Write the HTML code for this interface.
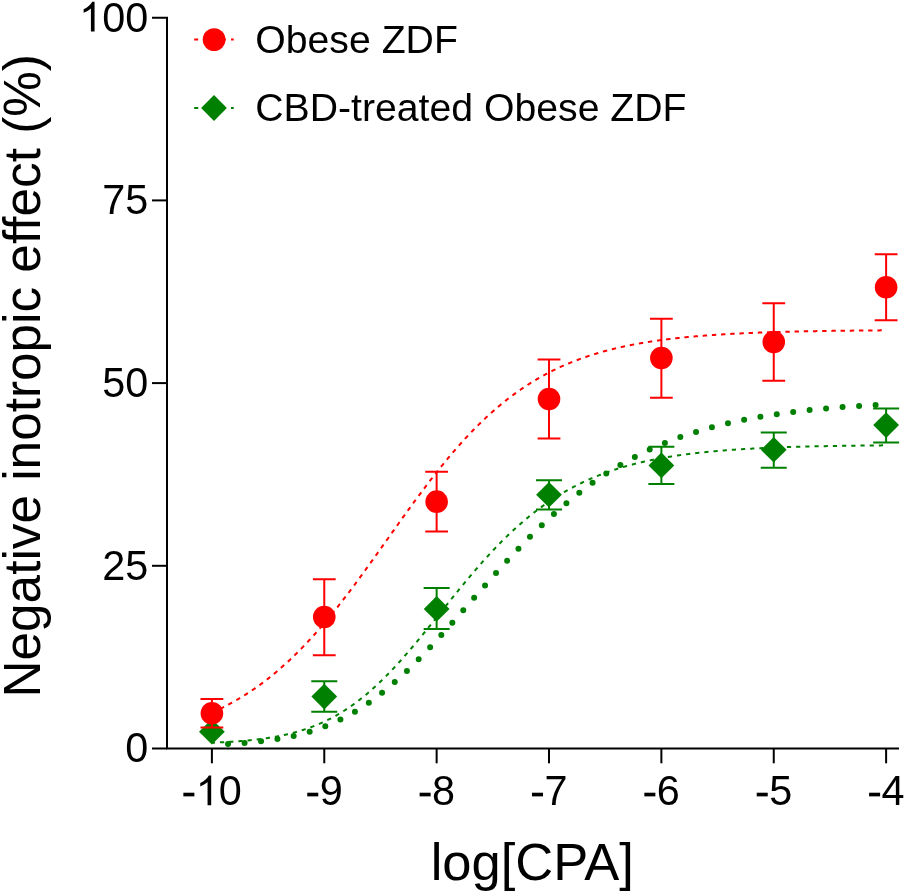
<!DOCTYPE html><html><head><meta charset="utf-8"><style>html,body{margin:0;padding:0;background:#fff;}svg{display:block;will-change:transform;}text{font-family:"Liberation Sans",sans-serif;fill:#000;}</style></head><body>
<svg width="905" height="894" viewBox="0 0 905 894">
<g stroke="#000" stroke-width="2" fill="none" stroke-linecap="butt">
<path d="M152,17.7 H167 V748.5 H899"/>
<path d="M152,200.40 H167"/>
<path d="M152,383.10 H167"/>
<path d="M152,565.80 H167"/>
<path d="M152,748.50 H167"/>
<path d="M211.90,748.5 V763.3"/>
<path d="M324.27,748.5 V763.3"/>
<path d="M436.64,748.5 V763.3"/>
<path d="M549.01,748.5 V763.3"/>
<path d="M661.38,748.5 V763.3"/>
<path d="M773.75,748.5 V763.3"/>
<path d="M886.12,748.5 V763.3"/>
</g>
<text transform="translate(125.18,762.40) scale(1,1.04)" font-size="41.4">0</text>
<text transform="translate(102.15,579.70) scale(1,1.04)" font-size="41.4">25</text>
<text transform="translate(102.15,397.00) scale(1,1.04)" font-size="41.4">50</text>
<text transform="translate(102.15,214.30) scale(1,1.04)" font-size="41.4">75</text>
<path d="M763,0 L583,0 L583,1147 Q518,1085 412.5,1023 Q307,961 223,930 L223,1104 Q374,1175 487,1276 Q600,1377 647,1472 L763,1472 Z" transform="translate(79.13,31.60) scale(0.020215,-0.020215)" fill="#000"/><text transform="translate(102.15,31.60) scale(1,1.04)" font-size="41.4">00</text>
<rect x="183.36" y="792.71" width="11.02" height="3.66" fill="#000"/><path d="M763,0 L583,0 L583,1147 Q518,1085 412.5,1023 Q307,961 223,930 L223,1104 Q374,1175 487,1276 Q600,1377 647,1472 L763,1472 Z" transform="translate(195.77,805.30) scale(0.020215,-0.020215)" fill="#000"/><text transform="translate(218.79,805.30) scale(1,1.04)" font-size="41.4">0</text>
<rect x="307.24" y="792.71" width="11.02" height="3.66" fill="#000"/><text transform="translate(319.65,805.30) scale(1,1.04)" font-size="41.4">9</text>
<rect x="419.61" y="792.71" width="11.02" height="3.66" fill="#000"/><text transform="translate(432.02,805.30) scale(1,1.04)" font-size="41.4">8</text>
<rect x="531.98" y="792.71" width="11.02" height="3.66" fill="#000"/><text transform="translate(544.39,805.30) scale(1,1.04)" font-size="41.4">7</text>
<rect x="644.35" y="792.71" width="11.02" height="3.66" fill="#000"/><text transform="translate(656.76,805.30) scale(1,1.04)" font-size="41.4">6</text>
<rect x="756.72" y="792.71" width="11.02" height="3.66" fill="#000"/><text transform="translate(769.13,805.30) scale(1,1.04)" font-size="41.4">5</text>
<rect x="869.09" y="792.71" width="11.02" height="3.66" fill="#000"/><text transform="translate(881.50,805.30) scale(1,1.04)" font-size="41.4">4</text>
<text x="532.3" y="879.7" font-size="52.5" text-anchor="middle">log[CPA]</text>
<text transform="translate(39.5,375.8) rotate(-90)" font-size="51.3" text-anchor="middle">Negative inotropic effect (%)</text>
<path d="M311.27,681.19 H337.27 M324.27,681.19 V711.81 M311.27,711.81 H337.27" stroke="#008000" stroke-width="2" fill="none"/>
<path d="M423.64,588.09 H449.64 M436.64,588.09 V629.01 M423.64,629.01 H449.64" stroke="#008000" stroke-width="2" fill="none"/>
<path d="M536.01,480.37 H562.01 M549.01,480.37 V509.60 M536.01,509.60 H562.01" stroke="#008000" stroke-width="2" fill="none"/>
<path d="M648.38,446.83 H674.38 M661.38,446.83 V483.88 M648.38,483.88 H674.38" stroke="#008000" stroke-width="2" fill="none"/>
<path d="M760.75,432.58 H786.75 M773.75,432.58 V467.73 M760.75,467.73 H786.75" stroke="#008000" stroke-width="2" fill="none"/>
<path d="M873.12,408.60 H899.12 M886.12,408.60 V442.59 M873.12,442.59 H899.12" stroke="#008000" stroke-width="2" fill="none"/>
<path d="M211.90,718.89 L224.80,731.69 L211.90,744.49 L199.00,731.69 Z" fill="#008000"/>
<path d="M324.27,683.81 L337.17,696.61 L324.27,709.41 L311.37,696.61 Z" fill="#008000"/>
<path d="M436.64,596.12 L449.54,608.92 L436.64,621.72 L423.74,608.92 Z" fill="#008000"/>
<path d="M549.01,481.89 L561.91,494.69 L549.01,507.49 L536.11,494.69 Z" fill="#008000"/>
<path d="M661.38,452.59 L674.28,465.39 L661.38,478.19 L648.48,465.39 Z" fill="#008000"/>
<path d="M773.75,437.02 L786.65,449.82 L773.75,462.62 L760.85,449.82 Z" fill="#008000"/>
<path d="M886.12,412.32 L899.02,425.12 L886.12,437.92 L873.22,425.12 Z" fill="#008000"/>
<path d="M211.90,742.72 L212.46,742.70 L213.02,742.68 L213.59,742.65 L214.15,742.63 L214.71,742.61 L215.27,742.58 L215.84,742.56 L216.40,742.54 L216.96,742.51 L217.52,742.49 L218.09,742.46 L218.65,742.43 L219.21,742.41 L219.77,742.38 L220.33,742.35 L220.90,742.33 L221.46,742.30 L222.02,742.27 L222.58,742.24 L223.15,742.21 L223.71,742.18 L224.27,742.15 L224.83,742.12 L225.40,742.09 L225.96,742.06 L226.52,742.03 L227.08,742.00 L227.64,741.97 L228.21,741.93 L228.77,741.90 L229.33,741.87 L229.89,741.83 L230.46,741.80 L231.02,741.76 L231.58,741.72 L232.14,741.69 L232.71,741.65 L233.27,741.61 L233.83,741.58 L234.39,741.54 L234.96,741.50 L235.52,741.46 L236.08,741.42 L236.64,741.38 L237.20,741.34 L237.77,741.29 L238.33,741.25 L238.89,741.21 L239.45,741.17 L240.02,741.12 L240.58,741.08 L241.14,741.03 L241.70,740.98 L242.27,740.94 L242.83,740.89 L243.39,740.84 L243.95,740.79 L244.51,740.74 L245.08,740.69 L245.64,740.64 L246.20,740.59 L246.76,740.54 L247.33,740.49 L247.89,740.43 L248.45,740.38 L249.01,740.32 L249.58,740.27 L250.14,740.21 L250.70,740.15 L251.26,740.10 L251.82,740.04 L252.39,739.98 L252.95,739.92 L253.51,739.86 L254.07,739.79 L254.64,739.73 L255.20,739.67 L255.76,739.60 L256.32,739.54 L256.89,739.47 L257.45,739.40 L258.01,739.33 L258.57,739.27 L259.13,739.20 L259.70,739.13 L260.26,739.05 L260.82,738.98 L261.38,738.91 L261.95,738.83 L262.51,738.76 L263.07,738.68 L263.63,738.60 L264.20,738.52 L264.76,738.44 L265.32,738.36 L265.88,738.28 L266.44,738.20 L267.01,738.12 L267.57,738.03 L268.13,737.94 L268.69,737.86 L269.26,737.77 L269.82,737.68 L270.38,737.59 L270.94,737.50 L271.51,737.41 L272.07,737.31 L272.63,737.22 L273.19,737.12 L273.76,737.02 L274.32,736.92 L274.88,736.82 L275.44,736.72 L276.00,736.62 L276.57,736.52 L277.13,736.41 L277.69,736.31 L278.25,736.20 L278.82,736.09 L279.38,735.98 L279.94,735.87 L280.50,735.76 L281.07,735.64 L281.63,735.53 L282.19,735.41 L282.75,735.29 L283.31,735.17 L283.88,735.05 L284.44,734.93 L285.00,734.80 L285.56,734.68 L286.13,734.55 L286.69,734.42 L287.25,734.29 L287.81,734.16 L288.38,734.02 L288.94,733.89 L289.50,733.75 L290.06,733.62 L290.62,733.48 L291.19,733.33 L291.75,733.19 L292.31,733.05 L292.87,732.90 L293.44,732.75 L294.00,732.60 L294.56,732.45 L295.12,732.30 L295.69,732.14 L296.25,731.99 L296.81,731.83 L297.37,731.67 L297.93,731.51 L298.50,731.34 L299.06,731.18 L299.62,731.01 L300.18,730.84 L300.75,730.67 L301.31,730.50 L301.87,730.32 L302.43,730.15 L303.00,729.97 L303.56,729.79 L304.12,729.61 L304.68,729.42 L305.24,729.23 L305.81,729.05 L306.37,728.86 L306.93,728.66 L307.49,728.47 L308.06,728.27 L308.62,728.07 L309.18,727.87 L309.74,727.67 L310.31,727.47 L310.87,727.26 L311.43,727.05 L311.99,726.84 L312.56,726.62 L313.12,726.41 L313.68,726.19 L314.24,725.97 L314.80,725.75 L315.37,725.52 L315.93,725.30 L316.49,725.07 L317.05,724.84 L317.62,724.60 L318.18,724.37 L318.74,724.13 L319.30,723.89 L319.87,723.64 L320.43,723.40 L320.99,723.15 L321.55,722.90 L322.11,722.65 L322.68,722.39 L323.24,722.13 L323.80,721.87 L324.36,721.61 L324.93,721.35 L325.49,721.08 L326.05,720.81 L326.61,720.54 L327.18,720.26 L327.74,719.98 L328.30,719.70 L328.86,719.42 L329.42,719.14 L329.99,718.85 L330.55,718.56 L331.11,718.27 L331.67,717.97 L332.24,717.67 L332.80,717.37 L333.36,717.07 L333.92,716.76 L334.49,716.45 L335.05,716.14 L335.61,715.83 L336.17,715.51 L336.73,715.19 L337.30,714.87 L337.86,714.54 L338.42,714.22 L338.98,713.88 L339.55,713.55 L340.11,713.22 L340.67,712.88 L341.23,712.53 L341.80,712.19 L342.36,711.84 L342.92,711.49 L343.48,711.14 L344.04,710.78 L344.61,710.43 L345.17,710.06 L345.73,709.70 L346.29,709.33 L346.86,708.96 L347.42,708.59 L347.98,708.22 L348.54,707.84 L349.11,707.46 L349.67,707.07 L350.23,706.68 L350.79,706.29 L351.36,705.90 L351.92,705.51 L352.48,705.11 L353.04,704.70 L353.60,704.30 L354.17,703.89 L354.73,703.48 L355.29,703.07 L355.85,702.65 L356.42,702.23 L356.98,701.81 L357.54,701.39 L358.10,700.96 L358.67,700.53 L359.23,700.09 L359.79,699.66 L360.35,699.22 L360.91,698.78 L361.48,698.33 L362.04,697.88 L362.60,697.43 L363.16,696.98 L363.73,696.52 L364.29,696.06 L364.85,695.60 L365.41,695.13 L365.98,694.66 L366.54,694.19 L367.10,693.72 L367.66,693.24 L368.22,692.76 L368.79,692.28 L369.35,691.79 L369.91,691.30 L370.47,690.81 L371.04,690.32 L371.60,689.82 L372.16,689.32 L372.72,688.82 L373.29,688.31 L373.85,687.80 L374.41,687.29 L374.97,686.78 L375.53,686.26 L376.10,685.74 L376.66,685.22 L377.22,684.69 L377.78,684.16 L378.35,683.63 L378.91,683.10 L379.47,682.56 L380.03,682.03 L380.60,681.48 L381.16,680.94 L381.72,680.39 L382.28,679.84 L382.84,679.29 L383.41,678.74 L383.97,678.18 L384.53,677.62 L385.09,677.06 L385.66,676.49 L386.22,675.92 L386.78,675.35 L387.34,674.78 L387.91,674.21 L388.47,673.63 L389.03,673.05 L389.59,672.47 L390.15,671.88 L390.72,671.29 L391.28,670.70 L391.84,670.11 L392.40,669.52 L392.97,668.92 L393.53,668.32 L394.09,667.72 L394.65,667.12 L395.22,666.51 L395.78,665.90 L396.34,665.29 L396.90,664.68 L397.47,664.07 L398.03,663.45 L398.59,662.83 L399.15,662.21 L399.71,661.59 L400.28,660.96 L400.84,660.33 L401.40,659.70 L401.96,659.07 L402.53,658.44 L403.09,657.81 L403.65,657.17 L404.21,656.53 L404.78,655.89 L405.34,655.25 L405.90,654.60 L406.46,653.96 L407.02,653.31 L407.59,652.66 L408.15,652.01 L408.71,651.35 L409.27,650.70 L409.84,650.04 L410.40,649.38 L410.96,648.72 L411.52,648.06 L412.09,647.40 L412.65,646.74 L413.21,646.07 L413.77,645.40 L414.33,644.73 L414.90,644.06 L415.46,643.39 L416.02,642.72 L416.58,642.05 L417.15,641.37 L417.71,640.70 L418.27,640.02 L418.83,639.34 L419.40,638.66 L419.96,637.98 L420.52,637.30 L421.08,636.61 L421.64,635.93 L422.21,635.24 L422.77,634.56 L423.33,633.87 L423.89,633.18 L424.46,632.49 L425.02,631.80 L425.58,631.11 L426.14,630.42 L426.71,629.73 L427.27,629.03 L427.83,628.34 L428.39,627.64 L428.95,626.95 L429.52,626.25 L430.08,625.56 L430.64,624.86 L431.20,624.16 L431.77,623.46 L432.33,622.76 L432.89,622.07 L433.45,621.37 L434.02,620.67 L434.58,619.97 L435.14,619.26 L435.70,618.56 L436.27,617.86 L436.83,617.16 L437.39,616.46 L437.95,615.76 L438.51,615.06 L439.08,614.35 L439.64,613.65 L440.20,612.95 L440.76,612.25 L441.33,611.55 L441.89,610.84 L442.45,610.14 L443.01,609.44 L443.58,608.74 L444.14,608.03 L444.70,607.33 L445.26,606.63 L445.82,605.93 L446.39,605.23 L446.95,604.53 L447.51,603.83 L448.07,603.13 L448.64,602.43 L449.20,601.73 L449.76,601.03 L450.32,600.33 L450.89,599.63 L451.45,598.94 L452.01,598.24 L452.57,597.54 L453.13,596.85 L453.70,596.15 L454.26,595.46 L454.82,594.76 L455.38,594.07 L455.95,593.38 L456.51,592.69 L457.07,592.00 L457.63,591.31 L458.20,590.62 L458.76,589.93 L459.32,589.24 L459.88,588.55 L460.44,587.87 L461.01,587.18 L461.57,586.50 L462.13,585.82 L462.69,585.13 L463.26,584.45 L463.82,583.77 L464.38,583.10 L464.94,582.42 L465.51,581.74 L466.07,581.07 L466.63,580.39 L467.19,579.72 L467.75,579.05 L468.32,578.38 L468.88,577.71 L469.44,577.04 L470.00,576.37 L470.57,575.71 L471.13,575.04 L471.69,574.38 L472.25,573.72 L472.82,573.06 L473.38,572.40 L473.94,571.75 L474.50,571.09 L475.07,570.44 L475.63,569.78 L476.19,569.13 L476.75,568.48 L477.31,567.84 L477.88,567.19 L478.44,566.54 L479.00,565.90 L479.56,565.26 L480.13,564.62 L480.69,563.98 L481.25,563.35 L481.81,562.71 L482.38,562.08 L482.94,561.45 L483.50,560.82 L484.06,560.19 L484.62,559.56 L485.19,558.94 L485.75,558.32 L486.31,557.70 L486.87,557.08 L487.44,556.46 L488.00,555.84 L488.56,555.23 L489.12,554.62 L489.69,554.01 L490.25,553.40 L490.81,552.80 L491.37,552.19 L491.93,551.59 L492.50,550.99 L493.06,550.39 L493.62,549.80 L494.18,549.20 L494.75,548.61 L495.31,548.02 L495.87,547.43 L496.43,546.85 L497.00,546.26 L497.56,545.68 L498.12,545.10 L498.68,544.52 L499.24,543.95 L499.81,543.37 L500.37,542.80 L500.93,542.23 L501.49,541.66 L502.06,541.10 L502.62,540.53 L503.18,539.97 L503.74,539.41 L504.31,538.86 L504.87,538.30 L505.43,537.75 L505.99,537.20 L506.55,536.65 L507.12,536.11 L507.68,535.56 L508.24,535.02 L508.80,534.48 L509.37,533.94 L509.93,533.41 L510.49,532.87 L511.05,532.34 L511.62,531.81 L512.18,531.29 L512.74,530.76 L513.30,530.24 L513.87,529.72 L514.43,529.20 L514.99,528.69 L515.55,528.18 L516.11,527.66 L516.68,527.16 L517.24,526.65 L517.80,526.14 L518.36,525.64 L518.93,525.14 L519.49,524.65 L520.05,524.15 L520.61,523.66 L521.18,523.17 L521.74,522.68 L522.30,522.19 L522.86,521.71 L523.42,521.22 L523.99,520.74 L524.55,520.27 L525.11,519.79 L525.67,519.32 L526.24,518.85 L526.80,518.38 L527.36,517.91 L527.92,517.45 L528.49,516.99 L529.05,516.53 L529.61,516.07 L530.17,515.62 L530.73,515.16 L531.30,514.71 L531.86,514.26 L532.42,513.82 L532.98,513.37 L533.55,512.93 L534.11,512.49 L534.67,512.05 L535.23,511.62 L535.80,511.19 L536.36,510.76 L536.92,510.33 L537.48,509.90 L538.04,509.48 L538.61,509.06 L539.17,508.64 L539.73,508.22 L540.29,507.80 L540.86,507.39 L541.42,506.98 L541.98,506.57 L542.54,506.16 L543.11,505.76 L543.67,505.36 L544.23,504.96 L544.79,504.56 L545.35,504.16 L545.92,503.77 L546.48,503.38 L547.04,502.99 L547.60,502.60 L548.17,502.21 L548.73,501.83 L549.29,501.45 L549.85,501.07 L550.42,500.69 L550.98,500.32 L551.54,499.95 L552.10,499.57 L552.67,499.21 L553.23,498.84 L553.79,498.48 L554.35,498.11 L554.91,497.75 L555.48,497.39 L556.04,497.04 L556.60,496.68 L557.16,496.33 L557.73,495.98 L558.29,495.63 L558.85,495.29 L559.41,494.94 L559.98,494.60 L560.54,494.26 L561.10,493.92 L561.66,493.59 L562.22,493.25 L562.79,492.92 L563.35,492.59 L563.91,492.26 L564.47,491.93 L565.04,491.61 L565.60,491.29 L566.16,490.97 L566.72,490.65 L567.29,490.33 L567.85,490.01 L568.41,489.70 L568.97,489.39 L569.53,489.08 L570.10,488.77 L570.66,488.47 L571.22,488.16 L571.78,487.86 L572.35,487.56 L572.91,487.26 L573.47,486.97 L574.03,486.67 L574.60,486.38 L575.16,486.09 L575.72,485.80 L576.28,485.51 L576.84,485.23 L577.41,484.94 L577.97,484.66 L578.53,484.38 L579.09,484.10 L579.66,483.82 L580.22,483.55 L580.78,483.28 L581.34,483.00 L581.91,482.73 L582.47,482.47 L583.03,482.20 L583.59,481.93 L584.15,481.67 L584.72,481.41 L585.28,481.15 L585.84,480.89 L586.40,480.63 L586.97,480.38 L587.53,480.13 L588.09,479.87 L588.65,479.62 L589.22,479.37 L589.78,479.13 L590.34,478.88 L590.90,478.64 L591.47,478.40 L592.03,478.16 L592.59,477.92 L593.15,477.68 L593.71,477.44 L594.28,477.21 L594.84,476.98 L595.40,476.74 L595.96,476.51 L596.53,476.29 L597.09,476.06 L597.65,475.83 L598.21,475.61 L598.78,475.39 L599.34,475.17 L599.90,474.95 L600.46,474.73 L601.02,474.51 L601.59,474.30 L602.15,474.08 L602.71,473.87 L603.27,473.66 L603.84,473.45 L604.40,473.24 L604.96,473.04 L605.52,472.83 L606.09,472.63 L606.65,472.42 L607.21,472.22 L607.77,472.02 L608.33,471.82 L608.90,471.63 L609.46,471.43 L610.02,471.24 L610.58,471.04 L611.15,470.85 L611.71,470.66 L612.27,470.47 L612.83,470.28 L613.40,470.10 L613.96,469.91 L614.52,469.73 L615.08,469.54 L615.64,469.36 L616.21,469.18 L616.77,469.00 L617.33,468.83 L617.89,468.65 L618.46,468.47 L619.02,468.30 L619.58,468.13 L620.14,467.95 L620.71,467.78 L621.27,467.61 L621.83,467.44 L622.39,467.28 L622.95,467.11 L623.52,466.95 L624.08,466.78 L624.64,466.62 L625.20,466.46 L625.77,466.30 L626.33,466.14 L626.89,465.98 L627.45,465.82 L628.02,465.67 L628.58,465.51 L629.14,465.36 L629.70,465.21 L630.27,465.05 L630.83,464.90 L631.39,464.75 L631.95,464.61 L632.51,464.46 L633.08,464.31 L633.64,464.17 L634.20,464.02 L634.76,463.88 L635.33,463.74 L635.89,463.59 L636.45,463.45 L637.01,463.32 L637.58,463.18 L638.14,463.04 L638.70,462.90 L639.26,462.77 L639.82,462.63 L640.39,462.50 L640.95,462.37 L641.51,462.24 L642.07,462.10 L642.64,461.97 L643.20,461.85 L643.76,461.72 L644.32,461.59 L644.89,461.47 L645.45,461.34 L646.01,461.22 L646.57,461.09 L647.13,460.97 L647.70,460.85 L648.26,460.73 L648.82,460.61 L649.38,460.49 L649.95,460.37 L650.51,460.25 L651.07,460.14 L651.63,460.02 L652.20,459.91 L652.76,459.79 L653.32,459.68 L653.88,459.57 L654.44,459.45 L655.01,459.34 L655.57,459.23 L656.13,459.13 L656.69,459.02 L657.26,458.91 L657.82,458.80 L658.38,458.70 L658.94,458.59 L659.51,458.49 L660.07,458.38 L660.63,458.28 L661.19,458.18 L661.75,458.08 L662.32,457.98 L662.88,457.88 L663.44,457.78 L664.00,457.68 L664.57,457.58 L665.13,457.48 L665.69,457.39 L666.25,457.29 L666.82,457.20 L667.38,457.10 L667.94,457.01 L668.50,456.92 L669.07,456.82 L669.63,456.73 L670.19,456.64 L670.75,456.55 L671.31,456.46 L671.88,456.37 L672.44,456.28 L673.00,456.20 L673.56,456.11 L674.13,456.02 L674.69,455.94 L675.25,455.85 L675.81,455.77 L676.38,455.68 L676.94,455.60 L677.50,455.52 L678.06,455.44 L678.62,455.35 L679.19,455.27 L679.75,455.19 L680.31,455.11 L680.87,455.04 L681.44,454.96 L682.00,454.88 L682.56,454.80 L683.12,454.73 L683.69,454.65 L684.25,454.57 L684.81,454.50 L685.37,454.42 L685.93,454.35 L686.50,454.28 L687.06,454.20 L687.62,454.13 L688.18,454.06 L688.75,453.99 L689.31,453.92 L689.87,453.85 L690.43,453.78 L691.00,453.71 L691.56,453.64 L692.12,453.57 L692.68,453.51 L693.24,453.44 L693.81,453.37 L694.37,453.31 L694.93,453.24 L695.49,453.18 L696.06,453.11 L696.62,453.05 L697.18,452.98 L697.74,452.92 L698.31,452.86 L698.87,452.80 L699.43,452.73 L699.99,452.67 L700.55,452.61 L701.12,452.55 L701.68,452.49 L702.24,452.43 L702.80,452.37 L703.37,452.32 L703.93,452.26 L704.49,452.20 L705.05,452.14 L705.62,452.09 L706.18,452.03 L706.74,451.97 L707.30,451.92 L707.87,451.86 L708.43,451.81 L708.99,451.75 L709.55,451.70 L710.11,451.65 L710.68,451.59 L711.24,451.54 L711.80,451.49 L712.36,451.44 L712.93,451.38 L713.49,451.33 L714.05,451.28 L714.61,451.23 L715.18,451.18 L715.74,451.13 L716.30,451.08 L716.86,451.04 L717.42,450.99 L717.99,450.94 L718.55,450.89 L719.11,450.84 L719.67,450.80 L720.24,450.75 L720.80,450.70 L721.36,450.66 L721.92,450.61 L722.49,450.57 L723.05,450.52 L723.61,450.48 L724.17,450.43 L724.73,450.39 L725.30,450.35 L725.86,450.30 L726.42,450.26 L726.98,450.22 L727.55,450.17 L728.11,450.13 L728.67,450.09 L729.23,450.05 L729.80,450.01 L730.36,449.97 L730.92,449.93 L731.48,449.89 L732.04,449.85 L732.61,449.81 L733.17,449.77 L733.73,449.73 L734.29,449.69 L734.86,449.65 L735.42,449.62 L735.98,449.58 L736.54,449.54 L737.11,449.50 L737.67,449.47 L738.23,449.43 L738.79,449.39 L739.35,449.36 L739.92,449.32 L740.48,449.29 L741.04,449.25 L741.60,449.22 L742.17,449.18 L742.73,449.15 L743.29,449.11 L743.85,449.08 L744.42,449.05 L744.98,449.01 L745.54,448.98 L746.10,448.95 L746.66,448.91 L747.23,448.88 L747.79,448.85 L748.35,448.82 L748.91,448.79 L749.48,448.76 L750.04,448.72 L750.60,448.69 L751.16,448.66 L751.73,448.63 L752.29,448.60 L752.85,448.57 L753.41,448.54 L753.98,448.51 L754.54,448.48 L755.10,448.45 L755.66,448.43 L756.22,448.40 L756.79,448.37 L757.35,448.34 L757.91,448.31 L758.47,448.29 L759.04,448.26 L759.60,448.23 L760.16,448.20 L760.72,448.18 L761.29,448.15 L761.85,448.12 L762.41,448.10 L762.97,448.07 L763.53,448.05 L764.10,448.02 L764.66,447.99 L765.22,447.97 L765.78,447.94 L766.35,447.92 L766.91,447.89 L767.47,447.87 L768.03,447.85 L768.60,447.82 L769.16,447.80 L769.72,447.77 L770.28,447.75 L770.84,447.73 L771.41,447.70 L771.97,447.68 L772.53,447.66 L773.09,447.63 L773.66,447.61 L774.22,447.59 L774.78,447.57 L775.34,447.55 L775.91,447.52 L776.47,447.50 L777.03,447.48 L777.59,447.46 L778.15,447.44 L778.72,447.42 L779.28,447.40 L779.84,447.38 L780.40,447.36 L780.97,447.33 L781.53,447.31 L782.09,447.29 L782.65,447.27 L783.22,447.25 L783.78,447.24 L784.34,447.22 L784.90,447.20 L785.46,447.18 L786.03,447.16 L786.59,447.14 L787.15,447.12 L787.71,447.10 L788.28,447.08 L788.84,447.07 L789.40,447.05 L789.96,447.03 L790.53,447.01 L791.09,446.99 L791.65,446.98 L792.21,446.96 L792.78,446.94 L793.34,446.92 L793.90,446.91 L794.46,446.89 L795.02,446.87 L795.59,446.86 L796.15,446.84 L796.71,446.82 L797.27,446.81 L797.84,446.79 L798.40,446.78 L798.96,446.76 L799.52,446.74 L800.09,446.73 L800.65,446.71 L801.21,446.70 L801.77,446.68 L802.33,446.67 L802.90,446.65 L803.46,446.64 L804.02,446.62 L804.58,446.61 L805.15,446.59 L805.71,446.58 L806.27,446.56 L806.83,446.55 L807.40,446.54 L807.96,446.52 L808.52,446.51 L809.08,446.49 L809.64,446.48 L810.21,446.47 L810.77,446.45 L811.33,446.44 L811.89,446.43 L812.46,446.41 L813.02,446.40 L813.58,446.39 L814.14,446.37 L814.71,446.36 L815.27,446.35 L815.83,446.34 L816.39,446.32 L816.95,446.31 L817.52,446.30 L818.08,446.29 L818.64,446.27 L819.20,446.26 L819.77,446.25 L820.33,446.24 L820.89,446.23 L821.45,446.22 L822.02,446.20 L822.58,446.19 L823.14,446.18 L823.70,446.17 L824.26,446.16 L824.83,446.15 L825.39,446.14 L825.95,446.13 L826.51,446.11 L827.08,446.10 L827.64,446.09 L828.20,446.08 L828.76,446.07 L829.33,446.06 L829.89,446.05 L830.45,446.04 L831.01,446.03 L831.58,446.02 L832.14,446.01 L832.70,446.00 L833.26,445.99 L833.82,445.98 L834.39,445.97 L834.95,445.96 L835.51,445.95 L836.07,445.94 L836.64,445.93 L837.20,445.92 L837.76,445.91 L838.32,445.90 L838.89,445.90 L839.45,445.89 L840.01,445.88 L840.57,445.87 L841.13,445.86 L841.70,445.85 L842.26,445.84 L842.82,445.83 L843.38,445.83 L843.95,445.82 L844.51,445.81 L845.07,445.80 L845.63,445.79 L846.20,445.78 L846.76,445.77 L847.32,445.77 L847.88,445.76 L848.44,445.75 L849.01,445.74 L849.57,445.73 L850.13,445.73 L850.69,445.72 L851.26,445.71 L851.82,445.70 L852.38,445.70 L852.94,445.69 L853.51,445.68 L854.07,445.67 L854.63,445.67 L855.19,445.66 L855.75,445.65 L856.32,445.64 L856.88,445.64 L857.44,445.63 L858.00,445.62 L858.57,445.62 L859.13,445.61 L859.69,445.60 L860.25,445.60 L860.82,445.59 L861.38,445.58 L861.94,445.58 L862.50,445.57 L863.06,445.56 L863.63,445.56 L864.19,445.55 L864.75,445.54 L865.31,445.54 L865.88,445.53 L866.44,445.52 L867.00,445.52 L867.56,445.51 L868.13,445.51 L868.69,445.50 L869.25,445.49 L869.81,445.49 L870.38,445.48 L870.94,445.48 L871.50,445.47 L872.06,445.46 L872.62,445.46 L873.19,445.45 L873.75,445.45 L874.31,445.44 L874.87,445.44 L875.44,445.43 L876.00,445.43 L876.56,445.42 L877.12,445.41 L877.69,445.41 L878.25,445.40 L878.81,445.40 L879.37,445.39 L879.93,445.39 L880.50,445.38 L881.06,445.38 L881.62,445.37 L882.18,445.37 L882.75,445.36 L883.31,445.36 L883.87,445.35 L884.43,445.35 L885.00,445.34 L885.56,445.34 L886.12,445.33" stroke="#008000" stroke-width="2" fill="none" stroke-dasharray="4.2 4.995" stroke-dashoffset="1.066"/>
<path d="M211.90,744.55 L212.46,744.54 L213.02,744.52 L213.59,744.50 L214.15,744.48 L214.71,744.46 L215.27,744.44 L215.84,744.42 L216.40,744.40 L216.96,744.38 L217.52,744.36 L218.09,744.34 L218.65,744.31 L219.21,744.29 L219.77,744.27 L220.33,744.25 L220.90,744.22 L221.46,744.20 L222.02,744.18 L222.58,744.15 L223.15,744.13 L223.71,744.10 L224.27,744.08 L224.83,744.05 L225.40,744.03 L225.96,744.00 L226.52,743.98 L227.08,743.95 L227.64,743.92 L228.21,743.89 L228.77,743.86 L229.33,743.84 L229.89,743.81 L230.46,743.78 L231.02,743.75 L231.58,743.72 L232.14,743.69 L232.71,743.65 L233.27,743.62 L233.83,743.59 L234.39,743.56 L234.96,743.52 L235.52,743.49 L236.08,743.46 L236.64,743.42 L237.20,743.39 L237.77,743.35 L238.33,743.31 L238.89,743.28 L239.45,743.24 L240.02,743.20 L240.58,743.16 L241.14,743.12 L241.70,743.08 L242.27,743.04 L242.83,743.00 L243.39,742.96 L243.95,742.92 L244.51,742.88 L245.08,742.84 L245.64,742.79 L246.20,742.75 L246.76,742.70 L247.33,742.66 L247.89,742.61 L248.45,742.56 L249.01,742.52 L249.58,742.47 L250.14,742.42 L250.70,742.37 L251.26,742.32 L251.82,742.27 L252.39,742.22 L252.95,742.17 L253.51,742.11 L254.07,742.06 L254.64,742.01 L255.20,741.95 L255.76,741.90 L256.32,741.84 L256.89,741.78 L257.45,741.73 L258.01,741.67 L258.57,741.61 L259.13,741.55 L259.70,741.49 L260.26,741.42 L260.82,741.36 L261.38,741.30 L261.95,741.23 L262.51,741.17 L263.07,741.10 L263.63,741.04 L264.20,740.97 L264.76,740.90 L265.32,740.83 L265.88,740.76 L266.44,740.69 L267.01,740.62 L267.57,740.54 L268.13,740.47 L268.69,740.39 L269.26,740.32 L269.82,740.24 L270.38,740.16 L270.94,740.08 L271.51,740.00 L272.07,739.92 L272.63,739.84 L273.19,739.76 L273.76,739.68 L274.32,739.59 L274.88,739.50 L275.44,739.42 L276.00,739.33 L276.57,739.24 L277.13,739.15 L277.69,739.06 L278.25,738.97 L278.82,738.87 L279.38,738.78 L279.94,738.68 L280.50,738.59 L281.07,738.49 L281.63,738.39 L282.19,738.29 L282.75,738.19 L283.31,738.08 L283.88,737.98 L284.44,737.88 L285.00,737.77 L285.56,737.66 L286.13,737.55 L286.69,737.44 L287.25,737.33 L287.81,737.22 L288.38,737.10 L288.94,736.99 L289.50,736.87 L290.06,736.75 L290.62,736.64 L291.19,736.52 L291.75,736.39 L292.31,736.27 L292.87,736.15 L293.44,736.02 L294.00,735.89 L294.56,735.76 L295.12,735.63 L295.69,735.50 L296.25,735.37 L296.81,735.23 L297.37,735.10 L297.93,734.96 L298.50,734.82 L299.06,734.68 L299.62,734.54 L300.18,734.40 L300.75,734.25 L301.31,734.10 L301.87,733.96 L302.43,733.81 L303.00,733.66 L303.56,733.50 L304.12,733.35 L304.68,733.19 L305.24,733.04 L305.81,732.88 L306.37,732.72 L306.93,732.55 L307.49,732.39 L308.06,732.22 L308.62,732.06 L309.18,731.89 L309.74,731.72 L310.31,731.54 L310.87,731.37 L311.43,731.19 L311.99,731.02 L312.56,730.84 L313.12,730.66 L313.68,730.47 L314.24,730.29 L314.80,730.10 L315.37,729.91 L315.93,729.72 L316.49,729.53 L317.05,729.34 L317.62,729.14 L318.18,728.95 L318.74,728.75 L319.30,728.55 L319.87,728.34 L320.43,728.14 L320.99,727.93 L321.55,727.72 L322.11,727.51 L322.68,727.30 L323.24,727.09 L323.80,726.87 L324.36,726.65 L324.93,726.43 L325.49,726.21 L326.05,725.99 L326.61,725.76 L327.18,725.53 L327.74,725.30 L328.30,725.07 L328.86,724.84 L329.42,724.60 L329.99,724.36 L330.55,724.12 L331.11,723.88 L331.67,723.63 L332.24,723.39 L332.80,723.14 L333.36,722.89 L333.92,722.64 L334.49,722.38 L335.05,722.13 L335.61,721.87 L336.17,721.61 L336.73,721.34 L337.30,721.08 L337.86,720.81 L338.42,720.54 L338.98,720.27 L339.55,719.99 L340.11,719.72 L340.67,719.44 L341.23,719.16 L341.80,718.88 L342.36,718.59 L342.92,718.31 L343.48,718.02 L344.04,717.73 L344.61,717.43 L345.17,717.14 L345.73,716.84 L346.29,716.54 L346.86,716.24 L347.42,715.93 L347.98,715.62 L348.54,715.31 L349.11,715.00 L349.67,714.69 L350.23,714.37 L350.79,714.05 L351.36,713.73 L351.92,713.41 L352.48,713.09 L353.04,712.76 L353.60,712.43 L354.17,712.10 L354.73,711.76 L355.29,711.43 L355.85,711.09 L356.42,710.75 L356.98,710.40 L357.54,710.06 L358.10,709.71 L358.67,709.36 L359.23,709.01 L359.79,708.65 L360.35,708.29 L360.91,707.93 L361.48,707.57 L362.04,707.21 L362.60,706.84 L363.16,706.47 L363.73,706.10 L364.29,705.73 L364.85,705.35 L365.41,704.97 L365.98,704.59 L366.54,704.21 L367.10,703.83 L367.66,703.44 L368.22,703.05 L368.79,702.66 L369.35,702.26 L369.91,701.87 L370.47,701.47 L371.04,701.07 L371.60,700.66 L372.16,700.26 L372.72,699.85 L373.29,699.44 L373.85,699.03 L374.41,698.61 L374.97,698.19 L375.53,697.77 L376.10,697.35 L376.66,696.93 L377.22,696.50 L377.78,696.07 L378.35,695.64 L378.91,695.21 L379.47,694.77 L380.03,694.34 L380.60,693.90 L381.16,693.45 L381.72,693.01 L382.28,692.56 L382.84,692.11 L383.41,691.66 L383.97,691.21 L384.53,690.75 L385.09,690.30 L385.66,689.84 L386.22,689.37 L386.78,688.91 L387.34,688.44 L387.91,687.97 L388.47,687.50 L389.03,687.03 L389.59,686.55 L390.15,686.08 L390.72,685.60 L391.28,685.12 L391.84,684.63 L392.40,684.15 L392.97,683.66 L393.53,683.17 L394.09,682.68 L394.65,682.18 L395.22,681.69 L395.78,681.19 L396.34,680.69 L396.90,680.18 L397.47,679.68 L398.03,679.17 L398.59,678.66 L399.15,678.15 L399.71,677.64 L400.28,677.13 L400.84,676.61 L401.40,676.09 L401.96,675.57 L402.53,675.05 L403.09,674.53 L403.65,674.00 L404.21,673.47 L404.78,672.94 L405.34,672.41 L405.90,671.88 L406.46,671.34 L407.02,670.80 L407.59,670.26 L408.15,669.72 L408.71,669.18 L409.27,668.64 L409.84,668.09 L410.40,667.54 L410.96,666.99 L411.52,666.44 L412.09,665.89 L412.65,665.33 L413.21,664.78 L413.77,664.22 L414.33,663.66 L414.90,663.10 L415.46,662.53 L416.02,661.97 L416.58,661.40 L417.15,660.83 L417.71,660.26 L418.27,659.69 L418.83,659.12 L419.40,658.54 L419.96,657.97 L420.52,657.39 L421.08,656.81 L421.64,656.23 L422.21,655.65 L422.77,655.07 L423.33,654.48 L423.89,653.89 L424.46,653.31 L425.02,652.72 L425.58,652.13 L426.14,651.54 L426.71,650.94 L427.27,650.35 L427.83,649.75 L428.39,649.15 L428.95,648.56 L429.52,647.96 L430.08,647.36 L430.64,646.75 L431.20,646.15 L431.77,645.55 L432.33,644.94 L432.89,644.33 L433.45,643.73 L434.02,643.12 L434.58,642.51 L435.14,641.90 L435.70,641.28 L436.27,640.67 L436.83,640.06 L437.39,639.44 L437.95,638.82 L438.51,638.21 L439.08,637.59 L439.64,636.97 L440.20,636.35 L440.76,635.73 L441.33,635.11 L441.89,634.48 L442.45,633.86 L443.01,633.23 L443.58,632.61 L444.14,631.98 L444.70,631.36 L445.26,630.73 L445.82,630.10 L446.39,629.47 L446.95,628.84 L447.51,628.21 L448.07,627.58 L448.64,626.94 L449.20,626.31 L449.76,625.68 L450.32,625.04 L450.89,624.41 L451.45,623.77 L452.01,623.14 L452.57,622.50 L453.13,621.87 L453.70,621.23 L454.26,620.59 L454.82,619.95 L455.38,619.31 L455.95,618.67 L456.51,618.03 L457.07,617.39 L457.63,616.75 L458.20,616.11 L458.76,615.47 L459.32,614.83 L459.88,614.19 L460.44,613.55 L461.01,612.90 L461.57,612.26 L462.13,611.62 L462.69,610.97 L463.26,610.33 L463.82,609.69 L464.38,609.04 L464.94,608.40 L465.51,607.75 L466.07,607.11 L466.63,606.47 L467.19,605.82 L467.75,605.18 L468.32,604.53 L468.88,603.89 L469.44,603.24 L470.00,602.60 L470.57,601.95 L471.13,601.31 L471.69,600.66 L472.25,600.02 L472.82,599.38 L473.38,598.73 L473.94,598.09 L474.50,597.44 L475.07,596.80 L475.63,596.15 L476.19,595.51 L476.75,594.87 L477.31,594.22 L477.88,593.58 L478.44,592.94 L479.00,592.30 L479.56,591.65 L480.13,591.01 L480.69,590.37 L481.25,589.73 L481.81,589.09 L482.38,588.45 L482.94,587.81 L483.50,587.17 L484.06,586.53 L484.62,585.89 L485.19,585.25 L485.75,584.61 L486.31,583.97 L486.87,583.33 L487.44,582.70 L488.00,582.06 L488.56,581.42 L489.12,580.79 L489.69,580.15 L490.25,579.52 L490.81,578.89 L491.37,578.25 L491.93,577.62 L492.50,576.99 L493.06,576.36 L493.62,575.72 L494.18,575.09 L494.75,574.46 L495.31,573.84 L495.87,573.21 L496.43,572.58 L497.00,571.95 L497.56,571.33 L498.12,570.70 L498.68,570.08 L499.24,569.45 L499.81,568.83 L500.37,568.21 L500.93,567.59 L501.49,566.97 L502.06,566.35 L502.62,565.73 L503.18,565.11 L503.74,564.49 L504.31,563.87 L504.87,563.26 L505.43,562.64 L505.99,562.03 L506.55,561.42 L507.12,560.81 L507.68,560.19 L508.24,559.58 L508.80,558.98 L509.37,558.37 L509.93,557.76 L510.49,557.15 L511.05,556.55 L511.62,555.94 L512.18,555.34 L512.74,554.74 L513.30,554.14 L513.87,553.54 L514.43,552.94 L514.99,552.34 L515.55,551.74 L516.11,551.15 L516.68,550.55 L517.24,549.96 L517.80,549.37 L518.36,548.78 L518.93,548.19 L519.49,547.60 L520.05,547.01 L520.61,546.42 L521.18,545.84 L521.74,545.25 L522.30,544.67 L522.86,544.09 L523.42,543.51 L523.99,542.93 L524.55,542.35 L525.11,541.77 L525.67,541.20 L526.24,540.62 L526.80,540.05 L527.36,539.48 L527.92,538.91 L528.49,538.34 L529.05,537.77 L529.61,537.20 L530.17,536.63 L530.73,536.07 L531.30,535.51 L531.86,534.95 L532.42,534.38 L532.98,533.83 L533.55,533.27 L534.11,532.71 L534.67,532.16 L535.23,531.60 L535.80,531.05 L536.36,530.50 L536.92,529.95 L537.48,529.40 L538.04,528.85 L538.61,528.31 L539.17,527.76 L539.73,527.22 L540.29,526.68 L540.86,526.14 L541.42,525.60 L541.98,525.06 L542.54,524.53 L543.11,523.99 L543.67,523.46 L544.23,522.93 L544.79,522.40 L545.35,521.87 L545.92,521.34 L546.48,520.82 L547.04,520.29 L547.60,519.77 L548.17,519.25 L548.73,518.73 L549.29,518.21 L549.85,517.69 L550.42,517.18 L550.98,516.66 L551.54,516.15 L552.10,515.64 L552.67,515.13 L553.23,514.62 L553.79,514.12 L554.35,513.61 L554.91,513.11 L555.48,512.61 L556.04,512.10 L556.60,511.61 L557.16,511.11 L557.73,510.61 L558.29,510.12 L558.85,509.62 L559.41,509.13 L559.98,508.64 L560.54,508.15 L561.10,507.67 L561.66,507.18 L562.22,506.70 L562.79,506.22 L563.35,505.73 L563.91,505.26 L564.47,504.78 L565.04,504.30 L565.60,503.83 L566.16,503.35 L566.72,502.88 L567.29,502.41 L567.85,501.94 L568.41,501.48 L568.97,501.01 L569.53,500.55 L570.10,500.08 L570.66,499.62 L571.22,499.16 L571.78,498.71 L572.35,498.25 L572.91,497.80 L573.47,497.34 L574.03,496.89 L574.60,496.44 L575.16,495.99 L575.72,495.54 L576.28,495.10 L576.84,494.66 L577.41,494.21 L577.97,493.77 L578.53,493.33 L579.09,492.90 L579.66,492.46 L580.22,492.02 L580.78,491.59 L581.34,491.16 L581.91,490.73 L582.47,490.30 L583.03,489.87 L583.59,489.45 L584.15,489.03 L584.72,488.60 L585.28,488.18 L585.84,487.76 L586.40,487.35 L586.97,486.93 L587.53,486.52 L588.09,486.10 L588.65,485.69 L589.22,485.28 L589.78,484.87 L590.34,484.47 L590.90,484.06 L591.47,483.66 L592.03,483.25 L592.59,482.85 L593.15,482.45 L593.71,482.06 L594.28,481.66 L594.84,481.26 L595.40,480.87 L595.96,480.48 L596.53,480.09 L597.09,479.70 L597.65,479.31 L598.21,478.93 L598.78,478.54 L599.34,478.16 L599.90,477.78 L600.46,477.40 L601.02,477.02 L601.59,476.64 L602.15,476.27 L602.71,475.90 L603.27,475.52 L603.84,475.15 L604.40,474.78 L604.96,474.42 L605.52,474.05 L606.09,473.68 L606.65,473.32 L607.21,472.96 L607.77,472.60 L608.33,472.24 L608.90,471.88 L609.46,471.52 L610.02,471.17 L610.58,470.82 L611.15,470.46 L611.71,470.11 L612.27,469.77 L612.83,469.42 L613.40,469.07 L613.96,468.73 L614.52,468.38 L615.08,468.04 L615.64,467.70 L616.21,467.36 L616.77,467.03 L617.33,466.69 L617.89,466.35 L618.46,466.02 L619.02,465.69 L619.58,465.36 L620.14,465.03 L620.71,464.70 L621.27,464.38 L621.83,464.05 L622.39,463.73 L622.95,463.41 L623.52,463.08 L624.08,462.76 L624.64,462.45 L625.20,462.13 L625.77,461.81 L626.33,461.50 L626.89,461.19 L627.45,460.88 L628.02,460.57 L628.58,460.26 L629.14,459.95 L629.70,459.65 L630.27,459.34 L630.83,459.04 L631.39,458.74 L631.95,458.44 L632.51,458.14 L633.08,457.84 L633.64,457.54 L634.20,457.25 L634.76,456.95 L635.33,456.66 L635.89,456.37 L636.45,456.08 L637.01,455.79 L637.58,455.50 L638.14,455.22 L638.70,454.93 L639.26,454.65 L639.82,454.36 L640.39,454.08 L640.95,453.80 L641.51,453.52 L642.07,453.25 L642.64,452.97 L643.20,452.70 L643.76,452.42 L644.32,452.15 L644.89,451.88 L645.45,451.61 L646.01,451.34 L646.57,451.07 L647.13,450.81 L647.70,450.54 L648.26,450.28 L648.82,450.02 L649.38,449.75 L649.95,449.49 L650.51,449.24 L651.07,448.98 L651.63,448.72 L652.20,448.47 L652.76,448.21 L653.32,447.96 L653.88,447.71 L654.44,447.46 L655.01,447.21 L655.57,446.96 L656.13,446.71 L656.69,446.46 L657.26,446.22 L657.82,445.98 L658.38,445.73 L658.94,445.49 L659.51,445.25 L660.07,445.01 L660.63,444.77 L661.19,444.54 L661.75,444.30 L662.32,444.07 L662.88,443.83 L663.44,443.60 L664.00,443.37 L664.57,443.14 L665.13,442.91 L665.69,442.68 L666.25,442.45 L666.82,442.23 L667.38,442.00 L667.94,441.78 L668.50,441.56 L669.07,441.34 L669.63,441.11 L670.19,440.90 L670.75,440.68 L671.31,440.46 L671.88,440.24 L672.44,440.03 L673.00,439.81 L673.56,439.60 L674.13,439.39 L674.69,439.18 L675.25,438.97 L675.81,438.76 L676.38,438.55 L676.94,438.34 L677.50,438.14 L678.06,437.93 L678.62,437.73 L679.19,437.52 L679.75,437.32 L680.31,437.12 L680.87,436.92 L681.44,436.72 L682.00,436.52 L682.56,436.33 L683.12,436.13 L683.69,435.93 L684.25,435.74 L684.81,435.55 L685.37,435.35 L685.93,435.16 L686.50,434.97 L687.06,434.78 L687.62,434.59 L688.18,434.41 L688.75,434.22 L689.31,434.03 L689.87,433.85 L690.43,433.66 L691.00,433.48 L691.56,433.30 L692.12,433.12 L692.68,432.94 L693.24,432.76 L693.81,432.58 L694.37,432.40 L694.93,432.22 L695.49,432.05 L696.06,431.87 L696.62,431.70 L697.18,431.53 L697.74,431.35 L698.31,431.18 L698.87,431.01 L699.43,430.84 L699.99,430.67 L700.55,430.50 L701.12,430.34 L701.68,430.17 L702.24,430.00 L702.80,429.84 L703.37,429.68 L703.93,429.51 L704.49,429.35 L705.05,429.19 L705.62,429.03 L706.18,428.87 L706.74,428.71 L707.30,428.55 L707.87,428.39 L708.43,428.24 L708.99,428.08 L709.55,427.93 L710.11,427.77 L710.68,427.62 L711.24,427.47 L711.80,427.31 L712.36,427.16 L712.93,427.01 L713.49,426.86 L714.05,426.71 L714.61,426.57 L715.18,426.42 L715.74,426.27 L716.30,426.13 L716.86,425.98 L717.42,425.84 L717.99,425.69 L718.55,425.55 L719.11,425.41 L719.67,425.27 L720.24,425.13 L720.80,424.99 L721.36,424.85 L721.92,424.71 L722.49,424.57 L723.05,424.43 L723.61,424.30 L724.17,424.16 L724.73,424.03 L725.30,423.89 L725.86,423.76 L726.42,423.63 L726.98,423.50 L727.55,423.36 L728.11,423.23 L728.67,423.10 L729.23,422.97 L729.80,422.85 L730.36,422.72 L730.92,422.59 L731.48,422.46 L732.04,422.34 L732.61,422.21 L733.17,422.09 L733.73,421.96 L734.29,421.84 L734.86,421.72 L735.42,421.59 L735.98,421.47 L736.54,421.35 L737.11,421.23 L737.67,421.11 L738.23,420.99 L738.79,420.87 L739.35,420.76 L739.92,420.64 L740.48,420.52 L741.04,420.41 L741.60,420.29 L742.17,420.18 L742.73,420.06 L743.29,419.95 L743.85,419.84 L744.42,419.73 L744.98,419.61 L745.54,419.50 L746.10,419.39 L746.66,419.28 L747.23,419.17 L747.79,419.06 L748.35,418.96 L748.91,418.85 L749.48,418.74 L750.04,418.63 L750.60,418.53 L751.16,418.42 L751.73,418.32 L752.29,418.21 L752.85,418.11 L753.41,418.01 L753.98,417.90 L754.54,417.80 L755.10,417.70 L755.66,417.60 L756.22,417.50 L756.79,417.40 L757.35,417.30 L757.91,417.20 L758.47,417.10 L759.04,417.01 L759.60,416.91 L760.16,416.81 L760.72,416.72 L761.29,416.62 L761.85,416.53 L762.41,416.43 L762.97,416.34 L763.53,416.24 L764.10,416.15 L764.66,416.06 L765.22,415.96 L765.78,415.87 L766.35,415.78 L766.91,415.69 L767.47,415.60 L768.03,415.51 L768.60,415.42 L769.16,415.33 L769.72,415.24 L770.28,415.16 L770.84,415.07 L771.41,414.98 L771.97,414.90 L772.53,414.81 L773.09,414.73 L773.66,414.64 L774.22,414.56 L774.78,414.47 L775.34,414.39 L775.91,414.30 L776.47,414.22 L777.03,414.14 L777.59,414.06 L778.15,413.98 L778.72,413.90 L779.28,413.81 L779.84,413.73 L780.40,413.66 L780.97,413.58 L781.53,413.50 L782.09,413.42 L782.65,413.34 L783.22,413.26 L783.78,413.19 L784.34,413.11 L784.90,413.03 L785.46,412.96 L786.03,412.88 L786.59,412.81 L787.15,412.73 L787.71,412.66 L788.28,412.58 L788.84,412.51 L789.40,412.44 L789.96,412.37 L790.53,412.29 L791.09,412.22 L791.65,412.15 L792.21,412.08 L792.78,412.01 L793.34,411.94 L793.90,411.87 L794.46,411.80 L795.02,411.73 L795.59,411.66 L796.15,411.59 L796.71,411.52 L797.27,411.46 L797.84,411.39 L798.40,411.32 L798.96,411.26 L799.52,411.19 L800.09,411.12 L800.65,411.06 L801.21,410.99 L801.77,410.93 L802.33,410.86 L802.90,410.80 L803.46,410.74 L804.02,410.67 L804.58,410.61 L805.15,410.55 L805.71,410.48 L806.27,410.42 L806.83,410.36 L807.40,410.30 L807.96,410.24 L808.52,410.18 L809.08,410.12 L809.64,410.06 L810.21,410.00 L810.77,409.94 L811.33,409.88 L811.89,409.82 L812.46,409.76 L813.02,409.71 L813.58,409.65 L814.14,409.59 L814.71,409.53 L815.27,409.48 L815.83,409.42 L816.39,409.36 L816.95,409.31 L817.52,409.25 L818.08,409.20 L818.64,409.14 L819.20,409.09 L819.77,409.03 L820.33,408.98 L820.89,408.93 L821.45,408.87 L822.02,408.82 L822.58,408.77 L823.14,408.71 L823.70,408.66 L824.26,408.61 L824.83,408.56 L825.39,408.51 L825.95,408.46 L826.51,408.41 L827.08,408.35 L827.64,408.30 L828.20,408.25 L828.76,408.20 L829.33,408.16 L829.89,408.11 L830.45,408.06 L831.01,408.01 L831.58,407.96 L832.14,407.91 L832.70,407.86 L833.26,407.82 L833.82,407.77 L834.39,407.72 L834.95,407.68 L835.51,407.63 L836.07,407.58 L836.64,407.54 L837.20,407.49 L837.76,407.45 L838.32,407.40 L838.89,407.36 L839.45,407.31 L840.01,407.27 L840.57,407.22 L841.13,407.18 L841.70,407.13 L842.26,407.09 L842.82,407.05 L843.38,407.01 L843.95,406.96 L844.51,406.92 L845.07,406.88 L845.63,406.84 L846.20,406.79 L846.76,406.75 L847.32,406.71 L847.88,406.67 L848.44,406.63 L849.01,406.59 L849.57,406.55 L850.13,406.51 L850.69,406.47 L851.26,406.43 L851.82,406.39 L852.38,406.35 L852.94,406.31 L853.51,406.27 L854.07,406.23 L854.63,406.19 L855.19,406.16 L855.75,406.12 L856.32,406.08 L856.88,406.04 L857.44,406.00 L858.00,405.97 L858.57,405.93 L859.13,405.89 L859.69,405.86 L860.25,405.82 L860.82,405.78 L861.38,405.75 L861.94,405.71 L862.50,405.68 L863.06,405.64 L863.63,405.61 L864.19,405.57 L864.75,405.54 L865.31,405.50 L865.88,405.47 L866.44,405.43 L867.00,405.40 L867.56,405.37 L868.13,405.33 L868.69,405.30 L869.25,405.27 L869.81,405.23 L870.38,405.20 L870.94,405.17 L871.50,405.13 L872.06,405.10 L872.62,405.07 L873.19,405.04 L873.75,405.01 L874.31,404.97 L874.87,404.94 L875.44,404.91 L876.00,404.88 L876.56,404.85 L877.12,404.82 L877.69,404.79 L878.25,404.76 L878.81,404.73 L879.37,404.70 L879.93,404.67 L880.50,404.64 L881.06,404.61 L881.62,404.58 L882.18,404.55 L882.75,404.52 L883.31,404.49 L883.87,404.46 L884.43,404.43 L885.00,404.41 L885.56,404.38 L886.12,404.35" stroke="#008000" stroke-width="6" fill="none" stroke-dasharray="0 16.549" stroke-dashoffset="0.395" stroke-linecap="round"/>
<path d="M200.50,699.02 H223.30 M211.90,699.02 V727.60 M200.50,727.60 H223.30" stroke="#ff0000" stroke-width="2" fill="none"/>
<path d="M312.87,579.17 H335.67 M324.27,579.17 V655.18 M312.87,655.18 H335.67" stroke="#ff0000" stroke-width="2" fill="none"/>
<path d="M425.24,471.67 H448.04 M436.64,471.67 V531.45 M425.24,531.45 H448.04" stroke="#ff0000" stroke-width="2" fill="none"/>
<path d="M537.61,359.42 H560.41 M549.01,359.42 V438.49 M537.61,438.49 H560.41" stroke="#ff0000" stroke-width="2" fill="none"/>
<path d="M649.98,318.79 H672.78 M661.38,318.79 V397.72 M649.98,397.72 H672.78" stroke="#ff0000" stroke-width="2" fill="none"/>
<path d="M762.35,303.22 H785.15 M773.75,303.22 V380.83 M762.35,380.83 H785.15" stroke="#ff0000" stroke-width="2" fill="none"/>
<path d="M874.72,254.33 H897.52 M886.12,254.33 V320.25 M874.72,320.25 H897.52" stroke="#ff0000" stroke-width="2" fill="none"/>
<path d="M211.90,712.60 L212.46,712.35 L213.02,712.09 L213.59,711.84 L214.15,711.59 L214.71,711.33 L215.27,711.07 L215.84,710.81 L216.40,710.55 L216.96,710.29 L217.52,710.02 L218.09,709.75 L218.65,709.49 L219.21,709.22 L219.77,708.95 L220.33,708.67 L220.90,708.40 L221.46,708.12 L222.02,707.84 L222.58,707.56 L223.15,707.28 L223.71,707.00 L224.27,706.71 L224.83,706.43 L225.40,706.14 L225.96,705.85 L226.52,705.56 L227.08,705.26 L227.64,704.97 L228.21,704.67 L228.77,704.37 L229.33,704.07 L229.89,703.77 L230.46,703.47 L231.02,703.16 L231.58,702.85 L232.14,702.54 L232.71,702.23 L233.27,701.92 L233.83,701.60 L234.39,701.28 L234.96,700.96 L235.52,700.64 L236.08,700.32 L236.64,700.00 L237.20,699.67 L237.77,699.34 L238.33,699.01 L238.89,698.68 L239.45,698.34 L240.02,698.01 L240.58,697.67 L241.14,697.33 L241.70,696.99 L242.27,696.64 L242.83,696.30 L243.39,695.95 L243.95,695.60 L244.51,695.25 L245.08,694.90 L245.64,694.54 L246.20,694.18 L246.76,693.82 L247.33,693.46 L247.89,693.10 L248.45,692.73 L249.01,692.36 L249.58,691.99 L250.14,691.62 L250.70,691.25 L251.26,690.87 L251.82,690.49 L252.39,690.11 L252.95,689.73 L253.51,689.35 L254.07,688.96 L254.64,688.57 L255.20,688.18 L255.76,687.79 L256.32,687.39 L256.89,687.00 L257.45,686.60 L258.01,686.20 L258.57,685.79 L259.13,685.39 L259.70,684.98 L260.26,684.57 L260.82,684.16 L261.38,683.74 L261.95,683.33 L262.51,682.91 L263.07,682.49 L263.63,682.07 L264.20,681.64 L264.76,681.21 L265.32,680.78 L265.88,680.35 L266.44,679.92 L267.01,679.48 L267.57,679.04 L268.13,678.60 L268.69,678.16 L269.26,677.72 L269.82,677.27 L270.38,676.82 L270.94,676.37 L271.51,675.91 L272.07,675.46 L272.63,675.00 L273.19,674.54 L273.76,674.08 L274.32,673.61 L274.88,673.14 L275.44,672.67 L276.00,672.20 L276.57,671.73 L277.13,671.25 L277.69,670.77 L278.25,670.29 L278.82,669.81 L279.38,669.32 L279.94,668.83 L280.50,668.34 L281.07,667.85 L281.63,667.36 L282.19,666.86 L282.75,666.36 L283.31,665.86 L283.88,665.35 L284.44,664.85 L285.00,664.34 L285.56,663.83 L286.13,663.32 L286.69,662.80 L287.25,662.28 L287.81,661.76 L288.38,661.24 L288.94,660.72 L289.50,660.19 L290.06,659.66 L290.62,659.13 L291.19,658.59 L291.75,658.06 L292.31,657.52 L292.87,656.98 L293.44,656.43 L294.00,655.89 L294.56,655.34 L295.12,654.79 L295.69,654.24 L296.25,653.68 L296.81,653.13 L297.37,652.57 L297.93,652.01 L298.50,651.44 L299.06,650.88 L299.62,650.31 L300.18,649.74 L300.75,649.16 L301.31,648.59 L301.87,648.01 L302.43,647.43 L303.00,646.85 L303.56,646.26 L304.12,645.68 L304.68,645.09 L305.24,644.50 L305.81,643.90 L306.37,643.31 L306.93,642.71 L307.49,642.11 L308.06,641.51 L308.62,640.90 L309.18,640.30 L309.74,639.69 L310.31,639.08 L310.87,638.46 L311.43,637.85 L311.99,637.23 L312.56,636.61 L313.12,635.99 L313.68,635.36 L314.24,634.74 L314.80,634.11 L315.37,633.48 L315.93,632.84 L316.49,632.21 L317.05,631.57 L317.62,630.93 L318.18,630.29 L318.74,629.64 L319.30,629.00 L319.87,628.35 L320.43,627.70 L320.99,627.05 L321.55,626.39 L322.11,625.74 L322.68,625.08 L323.24,624.42 L323.80,623.76 L324.36,623.09 L324.93,622.43 L325.49,621.76 L326.05,621.09 L326.61,620.42 L327.18,619.74 L327.74,619.06 L328.30,618.39 L328.86,617.71 L329.42,617.02 L329.99,616.34 L330.55,615.65 L331.11,614.97 L331.67,614.28 L332.24,613.58 L332.80,612.89 L333.36,612.20 L333.92,611.50 L334.49,610.80 L335.05,610.10 L335.61,609.40 L336.17,608.69 L336.73,607.98 L337.30,607.28 L337.86,606.57 L338.42,605.86 L338.98,605.14 L339.55,604.43 L340.11,603.71 L340.67,602.99 L341.23,602.27 L341.80,601.55 L342.36,600.83 L342.92,600.10 L343.48,599.38 L344.04,598.65 L344.61,597.92 L345.17,597.19 L345.73,596.46 L346.29,595.72 L346.86,594.99 L347.42,594.25 L347.98,593.51 L348.54,592.77 L349.11,592.03 L349.67,591.29 L350.23,590.54 L350.79,589.80 L351.36,589.05 L351.92,588.30 L352.48,587.55 L353.04,586.80 L353.60,586.05 L354.17,585.30 L354.73,584.54 L355.29,583.78 L355.85,583.03 L356.42,582.27 L356.98,581.51 L357.54,580.75 L358.10,579.99 L358.67,579.22 L359.23,578.46 L359.79,577.69 L360.35,576.93 L360.91,576.16 L361.48,575.39 L362.04,574.62 L362.60,573.85 L363.16,573.08 L363.73,572.31 L364.29,571.54 L364.85,570.76 L365.41,569.99 L365.98,569.21 L366.54,568.43 L367.10,567.66 L367.66,566.88 L368.22,566.10 L368.79,565.32 L369.35,564.54 L369.91,563.76 L370.47,562.98 L371.04,562.19 L371.60,561.41 L372.16,560.63 L372.72,559.84 L373.29,559.06 L373.85,558.27 L374.41,557.49 L374.97,556.70 L375.53,555.91 L376.10,555.12 L376.66,554.34 L377.22,553.55 L377.78,552.76 L378.35,551.97 L378.91,551.18 L379.47,550.39 L380.03,549.60 L380.60,548.81 L381.16,548.02 L381.72,547.23 L382.28,546.43 L382.84,545.64 L383.41,544.85 L383.97,544.06 L384.53,543.27 L385.09,542.48 L385.66,541.68 L386.22,540.89 L386.78,540.10 L387.34,539.31 L387.91,538.51 L388.47,537.72 L389.03,536.93 L389.59,536.14 L390.15,535.34 L390.72,534.55 L391.28,533.76 L391.84,532.97 L392.40,532.18 L392.97,531.38 L393.53,530.59 L394.09,529.80 L394.65,529.01 L395.22,528.22 L395.78,527.43 L396.34,526.64 L396.90,525.85 L397.47,525.06 L398.03,524.27 L398.59,523.49 L399.15,522.70 L399.71,521.91 L400.28,521.12 L400.84,520.34 L401.40,519.55 L401.96,518.77 L402.53,517.98 L403.09,517.20 L403.65,516.42 L404.21,515.63 L404.78,514.85 L405.34,514.07 L405.90,513.29 L406.46,512.51 L407.02,511.73 L407.59,510.95 L408.15,510.17 L408.71,509.40 L409.27,508.62 L409.84,507.85 L410.40,507.07 L410.96,506.30 L411.52,505.53 L412.09,504.76 L412.65,503.98 L413.21,503.22 L413.77,502.45 L414.33,501.68 L414.90,500.91 L415.46,500.15 L416.02,499.38 L416.58,498.62 L417.15,497.86 L417.71,497.10 L418.27,496.34 L418.83,495.58 L419.40,494.82 L419.96,494.07 L420.52,493.31 L421.08,492.56 L421.64,491.80 L422.21,491.05 L422.77,490.30 L423.33,489.56 L423.89,488.81 L424.46,488.06 L425.02,487.32 L425.58,486.57 L426.14,485.83 L426.71,485.09 L427.27,484.35 L427.83,483.62 L428.39,482.88 L428.95,482.15 L429.52,481.41 L430.08,480.68 L430.64,479.95 L431.20,479.23 L431.77,478.50 L432.33,477.77 L432.89,477.05 L433.45,476.33 L434.02,475.61 L434.58,474.89 L435.14,474.17 L435.70,473.46 L436.27,472.74 L436.83,472.03 L437.39,471.32 L437.95,470.62 L438.51,469.91 L439.08,469.20 L439.64,468.50 L440.20,467.80 L440.76,467.10 L441.33,466.40 L441.89,465.71 L442.45,465.01 L443.01,464.32 L443.58,463.63 L444.14,462.94 L444.70,462.26 L445.26,461.57 L445.82,460.89 L446.39,460.21 L446.95,459.53 L447.51,458.85 L448.07,458.18 L448.64,457.51 L449.20,456.84 L449.76,456.17 L450.32,455.50 L450.89,454.84 L451.45,454.17 L452.01,453.51 L452.57,452.85 L453.13,452.20 L453.70,451.54 L454.26,450.89 L454.82,450.24 L455.38,449.59 L455.95,448.95 L456.51,448.30 L457.07,447.66 L457.63,447.02 L458.20,446.38 L458.76,445.75 L459.32,445.11 L459.88,444.48 L460.44,443.85 L461.01,443.23 L461.57,442.60 L462.13,441.98 L462.69,441.36 L463.26,440.74 L463.82,440.12 L464.38,439.51 L464.94,438.90 L465.51,438.29 L466.07,437.68 L466.63,437.08 L467.19,436.48 L467.75,435.87 L468.32,435.28 L468.88,434.68 L469.44,434.09 L470.00,433.50 L470.57,432.91 L471.13,432.32 L471.69,431.73 L472.25,431.15 L472.82,430.57 L473.38,429.99 L473.94,429.42 L474.50,428.84 L475.07,428.27 L475.63,427.70 L476.19,427.14 L476.75,426.57 L477.31,426.01 L477.88,425.45 L478.44,424.90 L479.00,424.34 L479.56,423.79 L480.13,423.24 L480.69,422.69 L481.25,422.14 L481.81,421.60 L482.38,421.06 L482.94,420.52 L483.50,419.98 L484.06,419.45 L484.62,418.92 L485.19,418.39 L485.75,417.86 L486.31,417.33 L486.87,416.81 L487.44,416.29 L488.00,415.77 L488.56,415.26 L489.12,414.74 L489.69,414.23 L490.25,413.72 L490.81,413.22 L491.37,412.71 L491.93,412.21 L492.50,411.71 L493.06,411.21 L493.62,410.72 L494.18,410.23 L494.75,409.74 L495.31,409.25 L495.87,408.76 L496.43,408.28 L497.00,407.80 L497.56,407.32 L498.12,406.84 L498.68,406.37 L499.24,405.89 L499.81,405.42 L500.37,404.96 L500.93,404.49 L501.49,404.03 L502.06,403.57 L502.62,403.11 L503.18,402.65 L503.74,402.20 L504.31,401.75 L504.87,401.30 L505.43,400.85 L505.99,400.40 L506.55,399.96 L507.12,399.52 L507.68,399.08 L508.24,398.64 L508.80,398.21 L509.37,397.78 L509.93,397.35 L510.49,396.92 L511.05,396.50 L511.62,396.07 L512.18,395.65 L512.74,395.23 L513.30,394.82 L513.87,394.40 L514.43,393.99 L514.99,393.58 L515.55,393.17 L516.11,392.77 L516.68,392.36 L517.24,391.96 L517.80,391.56 L518.36,391.16 L518.93,390.77 L519.49,390.37 L520.05,389.98 L520.61,389.60 L521.18,389.21 L521.74,388.82 L522.30,388.44 L522.86,388.06 L523.42,387.68 L523.99,387.31 L524.55,386.93 L525.11,386.56 L525.67,386.19 L526.24,385.82 L526.80,385.46 L527.36,385.09 L527.92,384.73 L528.49,384.37 L529.05,384.01 L529.61,383.65 L530.17,383.30 L530.73,382.95 L531.30,382.60 L531.86,382.25 L532.42,381.90 L532.98,381.56 L533.55,381.22 L534.11,380.88 L534.67,380.54 L535.23,380.20 L535.80,379.87 L536.36,379.54 L536.92,379.21 L537.48,378.88 L538.04,378.55 L538.61,378.23 L539.17,377.90 L539.73,377.58 L540.29,377.26 L540.86,376.94 L541.42,376.63 L541.98,376.32 L542.54,376.00 L543.11,375.69 L543.67,375.38 L544.23,375.08 L544.79,374.77 L545.35,374.47 L545.92,374.17 L546.48,373.87 L547.04,373.57 L547.60,373.28 L548.17,372.98 L548.73,372.69 L549.29,372.40 L549.85,372.11 L550.42,371.83 L550.98,371.54 L551.54,371.26 L552.10,370.98 L552.67,370.70 L553.23,370.42 L553.79,370.14 L554.35,369.87 L554.91,369.59 L555.48,369.32 L556.04,369.05 L556.60,368.78 L557.16,368.52 L557.73,368.25 L558.29,367.99 L558.85,367.73 L559.41,367.47 L559.98,367.21 L560.54,366.95 L561.10,366.70 L561.66,366.44 L562.22,366.19 L562.79,365.94 L563.35,365.69 L563.91,365.44 L564.47,365.20 L565.04,364.95 L565.60,364.71 L566.16,364.47 L566.72,364.23 L567.29,363.99 L567.85,363.75 L568.41,363.52 L568.97,363.29 L569.53,363.05 L570.10,362.82 L570.66,362.59 L571.22,362.36 L571.78,362.14 L572.35,361.91 L572.91,361.69 L573.47,361.47 L574.03,361.25 L574.60,361.03 L575.16,360.81 L575.72,360.59 L576.28,360.38 L576.84,360.16 L577.41,359.95 L577.97,359.74 L578.53,359.53 L579.09,359.32 L579.66,359.12 L580.22,358.91 L580.78,358.71 L581.34,358.50 L581.91,358.30 L582.47,358.10 L583.03,357.90 L583.59,357.71 L584.15,357.51 L584.72,357.31 L585.28,357.12 L585.84,356.93 L586.40,356.74 L586.97,356.55 L587.53,356.36 L588.09,356.17 L588.65,355.98 L589.22,355.80 L589.78,355.62 L590.34,355.43 L590.90,355.25 L591.47,355.07 L592.03,354.89 L592.59,354.72 L593.15,354.54 L593.71,354.36 L594.28,354.19 L594.84,354.02 L595.40,353.84 L595.96,353.67 L596.53,353.50 L597.09,353.33 L597.65,353.17 L598.21,353.00 L598.78,352.84 L599.34,352.67 L599.90,352.51 L600.46,352.35 L601.02,352.19 L601.59,352.03 L602.15,351.87 L602.71,351.71 L603.27,351.55 L603.84,351.40 L604.40,351.24 L604.96,351.09 L605.52,350.94 L606.09,350.79 L606.65,350.64 L607.21,350.49 L607.77,350.34 L608.33,350.19 L608.90,350.05 L609.46,349.90 L610.02,349.76 L610.58,349.61 L611.15,349.47 L611.71,349.33 L612.27,349.19 L612.83,349.05 L613.40,348.91 L613.96,348.78 L614.52,348.64 L615.08,348.50 L615.64,348.37 L616.21,348.24 L616.77,348.10 L617.33,347.97 L617.89,347.84 L618.46,347.71 L619.02,347.58 L619.58,347.45 L620.14,347.32 L620.71,347.20 L621.27,347.07 L621.83,346.95 L622.39,346.82 L622.95,346.70 L623.52,346.58 L624.08,346.46 L624.64,346.34 L625.20,346.22 L625.77,346.10 L626.33,345.98 L626.89,345.86 L627.45,345.75 L628.02,345.63 L628.58,345.52 L629.14,345.40 L629.70,345.29 L630.27,345.18 L630.83,345.07 L631.39,344.96 L631.95,344.85 L632.51,344.74 L633.08,344.63 L633.64,344.52 L634.20,344.41 L634.76,344.31 L635.33,344.20 L635.89,344.10 L636.45,343.99 L637.01,343.89 L637.58,343.79 L638.14,343.68 L638.70,343.58 L639.26,343.48 L639.82,343.38 L640.39,343.28 L640.95,343.19 L641.51,343.09 L642.07,342.99 L642.64,342.90 L643.20,342.80 L643.76,342.71 L644.32,342.61 L644.89,342.52 L645.45,342.42 L646.01,342.33 L646.57,342.24 L647.13,342.15 L647.70,342.06 L648.26,341.97 L648.82,341.88 L649.38,341.79 L649.95,341.71 L650.51,341.62 L651.07,341.53 L651.63,341.45 L652.20,341.36 L652.76,341.28 L653.32,341.19 L653.88,341.11 L654.44,341.03 L655.01,340.94 L655.57,340.86 L656.13,340.78 L656.69,340.70 L657.26,340.62 L657.82,340.54 L658.38,340.46 L658.94,340.38 L659.51,340.31 L660.07,340.23 L660.63,340.15 L661.19,340.08 L661.75,340.00 L662.32,339.93 L662.88,339.85 L663.44,339.78 L664.00,339.71 L664.57,339.63 L665.13,339.56 L665.69,339.49 L666.25,339.42 L666.82,339.35 L667.38,339.28 L667.94,339.21 L668.50,339.14 L669.07,339.07 L669.63,339.00 L670.19,338.93 L670.75,338.87 L671.31,338.80 L671.88,338.73 L672.44,338.67 L673.00,338.60 L673.56,338.54 L674.13,338.47 L674.69,338.41 L675.25,338.35 L675.81,338.28 L676.38,338.22 L676.94,338.16 L677.50,338.10 L678.06,338.03 L678.62,337.97 L679.19,337.91 L679.75,337.85 L680.31,337.79 L680.87,337.74 L681.44,337.68 L682.00,337.62 L682.56,337.56 L683.12,337.50 L683.69,337.45 L684.25,337.39 L684.81,337.33 L685.37,337.28 L685.93,337.22 L686.50,337.17 L687.06,337.11 L687.62,337.06 L688.18,337.01 L688.75,336.95 L689.31,336.90 L689.87,336.85 L690.43,336.80 L691.00,336.74 L691.56,336.69 L692.12,336.64 L692.68,336.59 L693.24,336.54 L693.81,336.49 L694.37,336.44 L694.93,336.39 L695.49,336.34 L696.06,336.30 L696.62,336.25 L697.18,336.20 L697.74,336.15 L698.31,336.11 L698.87,336.06 L699.43,336.01 L699.99,335.97 L700.55,335.92 L701.12,335.88 L701.68,335.83 L702.24,335.79 L702.80,335.74 L703.37,335.70 L703.93,335.65 L704.49,335.61 L705.05,335.57 L705.62,335.52 L706.18,335.48 L706.74,335.44 L707.30,335.40 L707.87,335.36 L708.43,335.32 L708.99,335.27 L709.55,335.23 L710.11,335.19 L710.68,335.15 L711.24,335.11 L711.80,335.07 L712.36,335.04 L712.93,335.00 L713.49,334.96 L714.05,334.92 L714.61,334.88 L715.18,334.84 L715.74,334.81 L716.30,334.77 L716.86,334.73 L717.42,334.70 L717.99,334.66 L718.55,334.62 L719.11,334.59 L719.67,334.55 L720.24,334.52 L720.80,334.48 L721.36,334.45 L721.92,334.41 L722.49,334.38 L723.05,334.34 L723.61,334.31 L724.17,334.28 L724.73,334.24 L725.30,334.21 L725.86,334.18 L726.42,334.15 L726.98,334.11 L727.55,334.08 L728.11,334.05 L728.67,334.02 L729.23,333.99 L729.80,333.96 L730.36,333.93 L730.92,333.89 L731.48,333.86 L732.04,333.83 L732.61,333.80 L733.17,333.77 L733.73,333.74 L734.29,333.72 L734.86,333.69 L735.42,333.66 L735.98,333.63 L736.54,333.60 L737.11,333.57 L737.67,333.54 L738.23,333.52 L738.79,333.49 L739.35,333.46 L739.92,333.43 L740.48,333.41 L741.04,333.38 L741.60,333.35 L742.17,333.33 L742.73,333.30 L743.29,333.27 L743.85,333.25 L744.42,333.22 L744.98,333.20 L745.54,333.17 L746.10,333.15 L746.66,333.12 L747.23,333.10 L747.79,333.07 L748.35,333.05 L748.91,333.03 L749.48,333.00 L750.04,332.98 L750.60,332.95 L751.16,332.93 L751.73,332.91 L752.29,332.88 L752.85,332.86 L753.41,332.84 L753.98,332.82 L754.54,332.79 L755.10,332.77 L755.66,332.75 L756.22,332.73 L756.79,332.71 L757.35,332.68 L757.91,332.66 L758.47,332.64 L759.04,332.62 L759.60,332.60 L760.16,332.58 L760.72,332.56 L761.29,332.54 L761.85,332.52 L762.41,332.50 L762.97,332.48 L763.53,332.46 L764.10,332.44 L764.66,332.42 L765.22,332.40 L765.78,332.38 L766.35,332.36 L766.91,332.34 L767.47,332.32 L768.03,332.30 L768.60,332.28 L769.16,332.27 L769.72,332.25 L770.28,332.23 L770.84,332.21 L771.41,332.19 L771.97,332.18 L772.53,332.16 L773.09,332.14 L773.66,332.12 L774.22,332.11 L774.78,332.09 L775.34,332.07 L775.91,332.05 L776.47,332.04 L777.03,332.02 L777.59,332.00 L778.15,331.99 L778.72,331.97 L779.28,331.96 L779.84,331.94 L780.40,331.92 L780.97,331.91 L781.53,331.89 L782.09,331.88 L782.65,331.86 L783.22,331.85 L783.78,331.83 L784.34,331.82 L784.90,331.80 L785.46,331.79 L786.03,331.77 L786.59,331.76 L787.15,331.74 L787.71,331.73 L788.28,331.71 L788.84,331.70 L789.40,331.68 L789.96,331.67 L790.53,331.66 L791.09,331.64 L791.65,331.63 L792.21,331.62 L792.78,331.60 L793.34,331.59 L793.90,331.58 L794.46,331.56 L795.02,331.55 L795.59,331.54 L796.15,331.52 L796.71,331.51 L797.27,331.50 L797.84,331.49 L798.40,331.47 L798.96,331.46 L799.52,331.45 L800.09,331.44 L800.65,331.42 L801.21,331.41 L801.77,331.40 L802.33,331.39 L802.90,331.38 L803.46,331.36 L804.02,331.35 L804.58,331.34 L805.15,331.33 L805.71,331.32 L806.27,331.31 L806.83,331.30 L807.40,331.29 L807.96,331.27 L808.52,331.26 L809.08,331.25 L809.64,331.24 L810.21,331.23 L810.77,331.22 L811.33,331.21 L811.89,331.20 L812.46,331.19 L813.02,331.18 L813.58,331.17 L814.14,331.16 L814.71,331.15 L815.27,331.14 L815.83,331.13 L816.39,331.12 L816.95,331.11 L817.52,331.10 L818.08,331.09 L818.64,331.08 L819.20,331.07 L819.77,331.06 L820.33,331.05 L820.89,331.04 L821.45,331.03 L822.02,331.02 L822.58,331.02 L823.14,331.01 L823.70,331.00 L824.26,330.99 L824.83,330.98 L825.39,330.97 L825.95,330.96 L826.51,330.95 L827.08,330.95 L827.64,330.94 L828.20,330.93 L828.76,330.92 L829.33,330.91 L829.89,330.90 L830.45,330.90 L831.01,330.89 L831.58,330.88 L832.14,330.87 L832.70,330.86 L833.26,330.86 L833.82,330.85 L834.39,330.84 L834.95,330.83 L835.51,330.83 L836.07,330.82 L836.64,330.81 L837.20,330.80 L837.76,330.80 L838.32,330.79 L838.89,330.78 L839.45,330.77 L840.01,330.77 L840.57,330.76 L841.13,330.75 L841.70,330.75 L842.26,330.74 L842.82,330.73 L843.38,330.72 L843.95,330.72 L844.51,330.71 L845.07,330.70 L845.63,330.70 L846.20,330.69 L846.76,330.68 L847.32,330.68 L847.88,330.67 L848.44,330.66 L849.01,330.66 L849.57,330.65 L850.13,330.65 L850.69,330.64 L851.26,330.63 L851.82,330.63 L852.38,330.62 L852.94,330.62 L853.51,330.61 L854.07,330.60 L854.63,330.60 L855.19,330.59 L855.75,330.59 L856.32,330.58 L856.88,330.57 L857.44,330.57 L858.00,330.56 L858.57,330.56 L859.13,330.55 L859.69,330.55 L860.25,330.54 L860.82,330.54 L861.38,330.53 L861.94,330.53 L862.50,330.52 L863.06,330.51 L863.63,330.51 L864.19,330.50 L864.75,330.50 L865.31,330.49 L865.88,330.49 L866.44,330.48 L867.00,330.48 L867.56,330.47 L868.13,330.47 L868.69,330.46 L869.25,330.46 L869.81,330.45 L870.38,330.45 L870.94,330.44 L871.50,330.44 L872.06,330.44 L872.62,330.43 L873.19,330.43 L873.75,330.42 L874.31,330.42 L874.87,330.41 L875.44,330.41 L876.00,330.40 L876.56,330.40 L877.12,330.40 L877.69,330.39 L878.25,330.39 L878.81,330.38 L879.37,330.38 L879.93,330.37 L880.50,330.37 L881.06,330.37 L881.62,330.36 L882.18,330.36 L882.75,330.35 L883.31,330.35 L883.87,330.35 L884.43,330.34 L885.00,330.34 L885.56,330.33 L886.12,330.33" stroke="#ff0000" stroke-width="2" fill="none" stroke-dasharray="4.4 4.798" stroke-dashoffset="0.197"/>
<circle cx="211.90" cy="713.28" r="11.3" fill="#ff0000"/>
<circle cx="324.27" cy="616.96" r="11.3" fill="#ff0000"/>
<circle cx="436.64" cy="501.64" r="11.3" fill="#ff0000"/>
<circle cx="549.01" cy="399.10" r="11.3" fill="#ff0000"/>
<circle cx="661.38" cy="358.11" r="11.3" fill="#ff0000"/>
<circle cx="773.75" cy="342.10" r="11.3" fill="#ff0000"/>
<circle cx="886.12" cy="287.29" r="11.3" fill="#ff0000"/>
<path d="M194.2,39.6 H233.7" stroke="#ff0000" stroke-width="2" stroke-dasharray="4 5.2"/>
<circle cx="214.1" cy="39.6" r="11.4" fill="#ff0000"/>
<path d="M194.2,108.1 H233.7" stroke="#008000" stroke-width="2" stroke-dasharray="4 5.2"/>
<path d="M214,95.1 L226.9,108.1 L214,121.1 L201.1,108.1 Z" fill="#008000"/>
<g font-size="39.2">
<text x="255.3" y="52.6">Obese ZDF</text>
<text x="255.3" y="121.2">CBD-treated Obese ZDF</text>
</g>
</svg></body></html>
